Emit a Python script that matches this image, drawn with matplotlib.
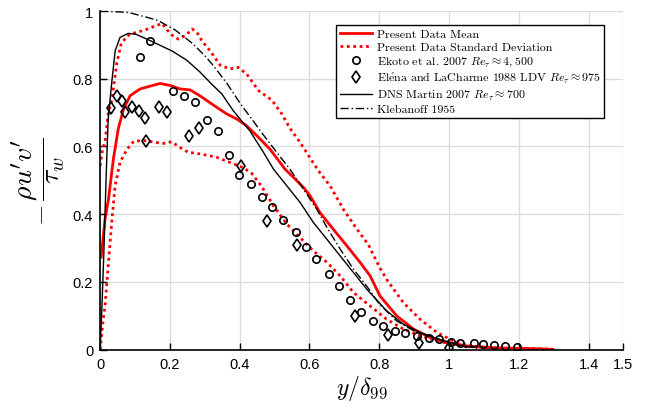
import numpy as np
import matplotlib
matplotlib.use('Agg')
import matplotlib.pyplot as plt

plt.rcParams['mathtext.fontset'] = 'cm'
plt.rcParams['font.family'] = ['Liberation Sans', 'DejaVu Sans']

# present data: mean and +/- std
mean_x = [0.003, 0.014, 0.024, 0.038, 0.052, 0.067, 0.086, 0.115, 0.143, 0.172, 0.201, 0.229,
          0.258, 0.287, 0.325, 0.363, 0.392, 0.420, 0.449, 0.487, 0.530, 0.554, 0.583, 0.602,
          0.630, 0.668, 0.707, 0.745, 0.774, 0.802, 0.850, 0.898, 0.946, 0.993, 1.051, 1.108,
          1.203, 1.298]
mean_y = [0.273, 0.386, 0.445, 0.563, 0.652, 0.710, 0.750, 0.770, 0.778, 0.786, 0.780, 0.770,
          0.767, 0.749, 0.722, 0.696, 0.681, 0.661, 0.632, 0.592, 0.533, 0.509, 0.479, 0.454,
          0.405, 0.356, 0.307, 0.258, 0.218, 0.159, 0.100, 0.061, 0.036, 0.021, 0.011, 0.006,
          0.004, 0.001]

upper_x = [0.0, 0.007, 0.014, 0.023, 0.034, 0.048, 0.060, 0.077, 0.097, 0.129, 0.158, 0.178,
           0.192, 0.206, 0.224, 0.244, 0.264, 0.281, 0.292, 0.315, 0.344, 0.372, 0.395, 0.420,
           0.454, 0.492, 0.521, 0.544, 0.573, 0.626, 0.659, 0.697, 0.736, 0.769, 0.800, 0.821,
           0.869, 0.917, 0.965, 1.012, 1.060, 1.155, 1.298]
upper_y = [0.543, 0.592, 0.613, 0.696, 0.740, 0.848, 0.902, 0.926, 0.935, 0.944, 0.956, 0.963,
           0.944, 0.929, 0.917, 0.927, 0.947, 0.932, 0.911, 0.883, 0.840, 0.829, 0.834, 0.814,
           0.765, 0.737, 0.696, 0.654, 0.612, 0.528, 0.484, 0.415, 0.356, 0.310, 0.245, 0.208,
           0.139, 0.090, 0.051, 0.026, 0.011, 0.004, 0.001]

lower_x = [0.0, 0.003, 0.009, 0.014, 0.024, 0.034, 0.043, 0.057, 0.077, 0.097, 0.129, 0.158,
           0.181, 0.205, 0.229, 0.252, 0.287, 0.334, 0.372, 0.411, 0.435, 0.463, 0.497, 0.535,
           0.573, 0.611, 0.650, 0.688, 0.726, 0.774, 0.821, 0.869, 0.917, 0.965, 1.012, 1.060,
           1.155, 1.298]
lower_y = [0.0, 0.031, 0.090, 0.129, 0.258, 0.386, 0.484, 0.553, 0.592, 0.616, 0.617, 0.612,
           0.609, 0.614, 0.597, 0.583, 0.578, 0.568, 0.553, 0.537, 0.520, 0.482, 0.425, 0.371,
           0.331, 0.292, 0.258, 0.218, 0.169, 0.129, 0.090, 0.061, 0.041, 0.026, 0.016, 0.009,
           0.004, 0.001]

# Ekoto et al. 2007
ekoto_x = [0.113, 0.143, 0.210, 0.241, 0.272, 0.306, 0.337, 0.368, 0.399, 0.433, 0.463, 0.494,
           0.524, 0.561, 0.590, 0.618, 0.656, 0.686, 0.717, 0.749, 0.782, 0.810, 0.844, 0.875,
           0.909, 0.944, 0.970, 1.005, 1.031, 1.071, 1.097, 1.128, 1.160, 1.194]
ekoto_y = [0.865, 0.912, 0.765, 0.748, 0.730, 0.678, 0.645, 0.575, 0.516, 0.489, 0.451, 0.420,
           0.383, 0.348, 0.304, 0.269, 0.224, 0.187, 0.148, 0.112, 0.084, 0.070, 0.054, 0.049,
           0.041, 0.034, 0.030, 0.024, 0.021, 0.019, 0.016, 0.014, 0.011, 0.008]

# Elena and LaCharme 1988
elena_x = [0.031, 0.047, 0.063, 0.072, 0.092, 0.112, 0.129, 0.132, 0.170, 0.191, 0.256, 0.284,
           0.404, 0.479, 0.564, 0.730, 0.825, 0.914, 1.000]
elena_y = [0.713, 0.748, 0.733, 0.701, 0.718, 0.704, 0.683, 0.617, 0.718, 0.701, 0.630, 0.656,
           0.541, 0.380, 0.308, 0.100, 0.042, 0.020, 0.006]

# DNS Martin 2007
dns_x = [0.0, 0.006, 0.011, 0.017, 0.023, 0.034, 0.043, 0.057, 0.081, 0.103, 0.134, 0.163,
         0.206, 0.248, 0.287, 0.315, 0.349, 0.382, 0.430, 0.468, 0.497, 0.535, 0.573, 0.611,
         0.650, 0.688, 0.726, 0.764, 0.821, 0.869, 0.917, 0.965, 1.012, 1.051]
dns_y = [0.0, 0.149, 0.297, 0.504, 0.681, 0.796, 0.882, 0.922, 0.934, 0.931, 0.917, 0.903,
         0.882, 0.855, 0.819, 0.789, 0.755, 0.705, 0.645, 0.583, 0.533, 0.484, 0.435, 0.376,
         0.326, 0.277, 0.228, 0.179, 0.115, 0.075, 0.051, 0.033, 0.019, 0.006]

# Klebanoff 1955
kleb_x = [0.0, 0.08, 0.129, 0.166, 0.215, 0.264, 0.301, 0.325, 0.363, 0.401, 0.439, 0.468,
          0.506, 0.544, 0.583, 0.621, 0.650, 0.688, 0.726, 0.764, 0.80, 0.85, 0.90, 0.95,
          1.00, 1.05, 1.08]
kleb_y = [1.0, 0.996, 0.983, 0.972, 0.944, 0.905, 0.867, 0.838, 0.787, 0.728, 0.675, 0.634,
          0.583, 0.533, 0.474, 0.415, 0.361, 0.297, 0.238, 0.188, 0.135, 0.085, 0.055, 0.037,
          0.022, 0.010, 0.004]

fig = plt.figure(figsize=(6.46, 4.14), dpi=100)
ax = fig.add_axes([0.155, 0.153, 0.810, 0.818])

ax.plot(mean_x, mean_y, color='red', lw=2.0, label='Present Data Mean')
ax.plot(upper_x, upper_y, color='red', lw=2.0, ls=(0, (1, 1.3)),
        label='Present Data Standard Deviation')
ax.plot(lower_x, lower_y, color='red', lw=2.0, ls=(0, (1, 1.3)))
ax.plot(ekoto_x, ekoto_y, 'o', mfc='none', mec='black', mew=1.2, ms=5.3,
        label=r'Ekoto et al. 2007 $Re_\tau \approx 4,500$')
ax.plot(elena_x, elena_y, 'd', mfc='none', mec='black', mew=1.2, ms=6,
        label=r'El$\acute{\mathrm{e}}$na and LaCharme 1988 LDV $Re_\tau \approx 975$')
ax.plot(dns_x, dns_y, color='black', lw=1.0, label=r'DNS Martin 2007 $Re_\tau \approx 700$')
ax.plot(kleb_x, kleb_y, color='black', lw=1.0, ls=(0, (6, 2, 1, 2)), label='Klebanoff 1955')

ax.set_xlim(0, 1.5)
ax.set_ylim(0, 1)
ax.set_xticks([0, 0.2, 0.4, 0.6, 0.8, 1.0, 1.2, 1.4, 1.5])
ax.set_xticklabels(['0', '0.2', '0.4', '0.6', '0.8', '1', '1.2', '1.4', '1.5'])
ax.set_yticks([0, 0.2, 0.4, 0.6, 0.8, 1.0])
ax.set_yticklabels(['0', '0.2', '0.4', '0.6', '0.8', '1'])
ax.tick_params(direction='in', length=5, width=1, labelsize=10.5, pad=5)
ax.grid(True, color='#dcdcdc', lw=1)
ax.set_axisbelow(True)
for s in ['top', 'right']:
    ax.spines[s].set_visible(False)
ax.spines['left'].set_linewidth(1.2)
ax.spines['bottom'].set_linewidth(1.2)

ax.set_xlabel(r'$y/\delta_{99}$', fontsize=17, labelpad=2)
ax.set_ylabel(r"$-\,\dfrac{\rho u'v'}{\tau_w}$", fontsize=20, labelpad=4)

leg = ax.legend(loc='upper right', bbox_to_anchor=(0.975, 0.975), fancybox=False,
                framealpha=1, edgecolor='black', handlelength=2.7, handletextpad=0.4,
                borderpad=0.3, labelspacing=0.2,
                prop={'family': ['cmr10', 'DejaVu Serif'], 'size': 8.6})
leg.get_frame().set_linewidth(1.0)

fig.savefig('out.png', dpi=100)
